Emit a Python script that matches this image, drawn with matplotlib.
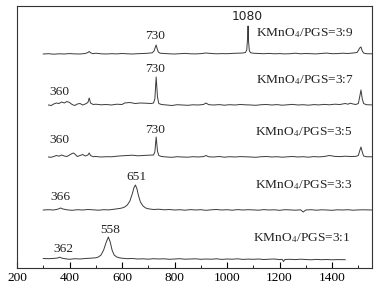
import matplotlib
matplotlib.use("Agg")
import matplotlib.pyplot as plt
from matplotlib.ticker import MultipleLocator

plt.rcParams['font.family'] = ['Liberation Serif', 'DejaVu Serif']
plt.rcParams['mathtext.fontset'] = 'stix'

# ---- data (x in cm^-1, y = intensity above each trace's baseline, arbitrary units) ----
x39 = [300,320,340,360,380,400,420,440,460,470,475,480,490,500,520,540,560,580,600,620,
       640,660,680,700,715,722,727,730,733,738,745,760,780,800,820,840,860,880,900,920,
       940,960,980,1000,1020,1040,1060,1070,1075,1078,1080,1082,1085,1090,1100,1120,1140,1160,1180,1200,
       1220,1240,1260,1280,1300,1320,1340,1360,1380,1400,1420,1440,1460,1480,1495,1500,1505,1510,1515,1520,
       1530,1550]
y39 = [0,0.3,-0.2,0.2,0,0.4,0.1,0,0.5,1.5,2.5,1.2,0.3,0.8,0.2,0,0.3,0.1,0.5,0.2,
       0,0.3,0.5,0.8,1.2,3,7,9,6,2,0.8,0.5,0.2,0,0.3,0.6,0.2,0.1,0.4,1.0,
       0.5,0.2,0.4,0.3,0.6,0.8,1.0,1.5,4,15,28,12,3,1.2,0.8,0.5,0.3,0.6,0.2,0.4,
       0.1,0.3,0.8,0.2,0.5,0.3,0.1,0.6,0.9,0.3,0.4,0.8,0.5,1.0,1.5,3.5,6,7,3,1.0,
       0.3,0.2]

x37 = [320,330,340,350,360,370,380,390,400,410,420,430,440,450,460,470,475,480,490,500,
       520,540,560,580,600,610,630,650,670,690,710,720,725,730,735,740,750,770,790,810,
       830,850,870,890,910,920,930,950,970,990,1010,1030,1050,1070,1090,1110,1130,1150,1170,1190,
       1210,1230,1250,1270,1290,1310,1330,1350,1370,1390,1410,1430,1450,1460,1470,1480,1490,1500,1505,1510,
       1515,1520,1530,1550]
y37 = [0,-0.5,1,2,1.5,3,2,3.5,2.5,0.5,-0.5,1,1.5,0,1,2.5,7,2,0.5,0.8,
       0.2,0.5,0,0.8,0.5,2,2.5,1.5,2,1.8,1.5,2,6,28,8,1.5,0.5,0,-0.5,0.3,
       0,-0.3,0.2,0,0.5,2,0.3,0,0.4,-0.2,0.3,0,0.5,0.2,0,-0.3,0.3,0.5,0,0.4,
       -0.2,0.2,0.6,0,0.3,-0.2,0.4,0.1,0.6,0.2,0.8,0.5,1.5,0.8,1.8,1.0,0.5,1.5,8,15,
       6,1.5,0.3,0.1]

x35 = [320,330,340,350,360,370,380,390,400,410,415,420,430,440,450,460,470,475,480,490,
       500,520,540,560,580,600,620,640,660,680,700,720,725,730,735,740,750,770,790,810,
       830,850,870,890,910,920,930,950,970,990,1010,1030,1050,1070,1090,1110,1130,1150,1170,1190,
       1210,1230,1250,1270,1290,1310,1330,1350,1370,1390,1410,1430,1450,1470,1490,1500,1505,1510,1515,1520,
       1530,1550]
y35 = [0,-0.3,0.5,1.5,0.8,2,1,0.5,2,3.5,4,3,0.5,1.5,2.5,1,2,4,1.5,0.3,
       0.5,0,0.3,0.2,0.8,1.2,1.5,1.8,1.2,1.5,1.8,2,5,20,6,1.5,0.5,0,-0.3,0.3,
       0,-0.2,0.3,0,0.4,1.5,0.2,0,0.5,-0.2,0.3,0,0.4,0.2,0,-0.3,0.3,0.5,0,0.3,
       -0.2,0.2,0.5,0,0.3,-0.2,0.4,0.1,0.5,1.5,0.6,0.4,0.8,0.5,0.6,1.5,6,10,5,1.0,
       0.3,0.2]

x33 = [300,320,340,355,366,375,390,410,430,450,470,490,510,530,550,570,590,600,610,620,
       630,640,645,651,657,662,670,680,690,700,720,740,760,780,800,820,840,860,880,900,
       920,940,960,980,1000,1020,1040,1060,1080,1100,1120,1140,1160,1180,1200,1220,1240,1260,1280,1290,
       1300,1320,1340,1360,1380,1400,1420,1440,1460,1480,1500,1520,1550]
y33 = [0,0.3,0,0.8,2,1,0.2,-0.3,0.3,0,0.5,0.2,-0.2,0.3,0.1,0.8,1.5,2,3,5,
       9,17,22,25,21,15,8,4,2,1.2,0.5,0.8,0.2,0.5,0,0.3,-0.2,0.4,0,0.3,
       -0.3,0.2,0.5,0,0.3,-0.2,0.4,0,0.3,0.1,-0.2,0.4,0,0.2,-0.3,0.3,0.1,-0.2,0.2,-2,
       0,0.3,-0.2,0.2,0,-0.3,0.2,0,0.3,-0.2,0.1,0.2,0]

x31 = [300,320,340,355,362,372,385,400,420,440,460,480,500,510,520,530,540,548,555,562,
       570,580,590,600,620,640,660,680,700,720,740,760,780,800,820,840,860,880,900,920,
       940,960,980,1000,1020,1040,1060,1080,1100,1120,1140,1160,1180,1200,1210,1215,1220,1240,1260,1280,
       1300,1320,1340,1360,1380,1400,1420,1450]
y31 = [0.5,0.3,0.6,1,1.8,0.8,0.2,-0.3,0.3,0,0.5,0.8,1.2,2,4,9,17,22,17,9,
       4,2,1.2,0.8,0.3,0.5,0,0.2,-0.2,0.3,0,0.2,-0.3,0,0.3,-0.2,0,0.2,-0.3,0,
       -0.2,0.2,-0.4,0,-0.2,0.2,-0.4,-0.1,-0.3,0,-0.5,-0.2,0,-0.6,-0.3,-2.5,-0.5,-0.3,-0.6,-0.2,
       -0.5,-0.8,-0.4,-0.7,-0.5,-0.8,-0.6,-0.7]

series = [(x39, y39, 214), (x37, y37, 163), (x35, y35, 111), (x33, y33, 58), (x31, y31, 9)]

sample_labels = ['KMnO$_4$/PGS=3:9', 'KMnO$_4$/PGS=3:7', 'KMnO$_4$/PGS=3:5',
                 'KMnO$_4$/PGS=3:3', 'KMnO$_4$/PGS=3:1']
sample_label_pos = [(1110, 235), (1110, 188), (1105, 136), (1105, 83), (1098, 30)]

peak_texts = ['730', '730', '360', '730', '360', '651', '366', '558', '362']
peak_pos = [(726, 232), (726, 199), (360, 176), (726, 138), (360, 128),
            (653, 91), (364, 71), (554, 38), (375, 19)]

fig = plt.figure(figsize=(3.76, 2.94), dpi=100)
ax = fig.add_axes([17/376, 26/294, (372-17)/376, (268-6)/294])

for xs, ys, off in series:
    ax.plot(xs, [v + off for v in ys], color='#3a3a3a', lw=0.7)

for t, (px, py) in zip(sample_labels, sample_label_pos):
    ax.text(px, py, t, fontsize=9.6, ha='left', va='center', color='#222222')

for t, (px, py) in zip(peak_texts, peak_pos):
    ax.text(px, py, t, fontsize=9.6, ha='center', va='center', color='#222222')

ax.text(1076, 251, '1080', fontsize=8.8, ha='center', va='center', color='#222222',
        family='DejaVu Sans')

ax.set_xlim(200, 1552)
ax.set_ylim(0, 262)
ax.xaxis.set_major_locator(MultipleLocator(200))
ax.xaxis.set_minor_locator(MultipleLocator(100))
ax.tick_params(axis='x', which='major', direction='in', length=4, width=0.8, labelsize=9.6, pad=3)
ax.tick_params(axis='x', which='minor', direction='in', length=2, width=0.6)
ax.set_yticks([])
for s in ax.spines.values():
    s.set_linewidth(0.8)
    s.set_color('#333333')

fig.savefig('out.png', dpi=100)
